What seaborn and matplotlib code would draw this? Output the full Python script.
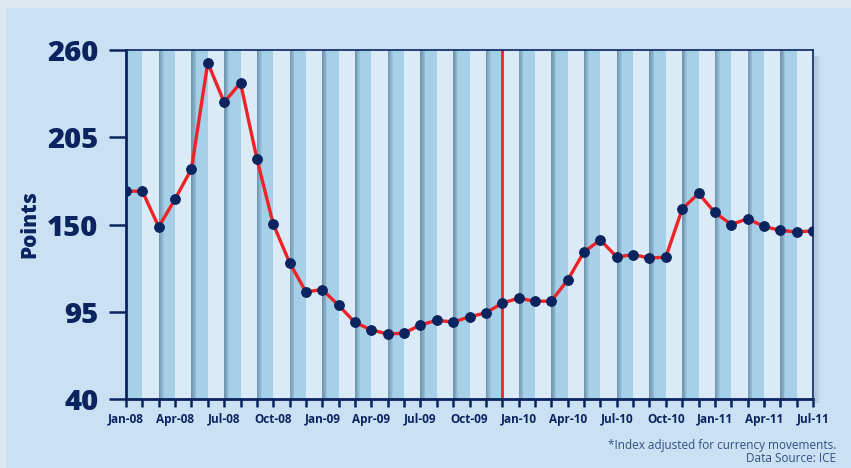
import seaborn as sns
import matplotlib.pyplot as plt
import pandas as pd
from matplotlib.patches import Rectangle

# month labels, Jan-08 .. Jul-11
months = ['Jan-08', 'Feb-08', 'Mar-08', 'Apr-08', 'May-08', 'Jun-08', 'Jul-08',
          'Aug-08', 'Sep-08', 'Oct-08', 'Nov-08', 'Dec-08',
          'Jan-09', 'Feb-09', 'Mar-09', 'Apr-09', 'May-09', 'Jun-09', 'Jul-09',
          'Aug-09', 'Sep-09', 'Oct-09', 'Nov-09', 'Dec-09',
          'Jan-10', 'Feb-10', 'Mar-10', 'Apr-10', 'May-10', 'Jun-10', 'Jul-10',
          'Aug-10', 'Sep-10', 'Oct-10', 'Nov-10', 'Dec-10',
          'Jan-11', 'Feb-11', 'Mar-11', 'Apr-11', 'May-11', 'Jun-11', 'Jul-11']
points = [171, 171, 148.5, 166, 185, 252, 227, 239.3, 191.5, 150.3, 126, 107.5,
          109, 99, 88.3, 83.5, 81, 81.5, 86.7, 89.6, 88.5, 91.8, 94.3, 100.4,
          103.6, 101.6, 101.7, 115, 132.7, 140.3, 129.5, 131, 128.9, 129.4,
          159.7, 169.6, 157.6, 150, 153.6, 148.8, 146.3, 145.3, 146]
marker_month = 'Dec-09'
yticks = [40, 95, 150, 205, 260]
footnote = ['*Index adjusted for currency movements.', 'Data Source: ICE']

navy = '#0b2460'
red = '#ee2327'

df = pd.DataFrame({'month': range(len(months)), 'points': points})

fig = plt.figure(figsize=(8.51, 4.68), dpi=100)
fig.patch.set_facecolor('#c9e1f3')
# lighter frame strips at top and left
fig.patches.append(Rectangle((0, 1 - 7 / 468), 1, 7 / 468, transform=fig.transFigure,
                             color='#dde7ee', zorder=0))
fig.patches.append(Rectangle((0, 0), 5 / 851, 1, transform=fig.transFigure,
                             color='#dde7ee', zorder=0))

ax = fig.add_axes([126 / 851, 69 / 468, 687 / 851, 349 / 468])
ax.set_facecolor('#daeaf6')

# soft shadow right of the plot area
for i in range(5):
    fig.patches.append(Rectangle((813 / 851, 66 / 468), (6 - i) / 851, 346 / 468,
                                 transform=fig.transFigure, color='#5a7a90',
                                 alpha=0.04, zorder=0))

# alternating month bands, darker ones with shaded left edge
n = len(months) - 1
for s in range(0, n, 2):
    ax.axvspan(s, s + 1, color='#a6cfe8', lw=0, zorder=0)
    if s > 0:
        for i in range(6):
            ax.axvspan(s, s + 0.3 * (1 - i / 6), color='#1c3a55', alpha=0.075,
                       lw=0, zorder=0.5)

ax.axvline(months.index(marker_month), color=red, lw=2, zorder=2)

sns.lineplot(data=df, x='month', y='points', ax=ax, color=red, lw=2.4,
             marker='o', markersize=7, markerfacecolor=navy,
             markeredgecolor=navy, zorder=3)

ax.set_xlim(0, n)
ax.set_ylim(40, 260)
ax.set_xticks(range(len(months)))
ax.set_xticklabels([m if i % 3 == 0 else '' for i, m in enumerate(months)])
ax.set_yticks(yticks)
ax.set_yticklabels([str(v) for v in yticks])

ax.tick_params(axis='x', length=6, width=1.8, color=navy, pad=4,
               labelsize=8.5, labelcolor=navy)
ax.tick_params(axis='y', length=12, width=1.8, color=navy, pad=8,
               labelsize=21, labelcolor=navy)
for lab in ax.get_xticklabels():
    lab.set_fontweight('bold')
    lab.set_family('Open Sans')
for lab in ax.get_yticklabels():
    lab.set_fontweight('heavy')
    lab.set_family('Open Sans')

for side in ['left', 'bottom']:
    ax.spines[side].set_color(navy)
    ax.spines[side].set_linewidth(2)
for side in ['top', 'right']:
    ax.spines[side].set_color(navy)
    ax.spines[side].set_linewidth(1.2)

ax.set_xlabel('')
ax.set_ylabel('Points', fontsize=15, fontweight='heavy', color=navy,
              family='Open Sans', labelpad=2)
ax.yaxis.set_label_coords(-0.125, 0.5)

fig.text(836 / 851, 1 - 445 / 468, footnote[0], ha='right', va='center',
         fontsize=8.5, color='#34507f', family='Open Sans')
fig.text(836 / 851, 1 - 459 / 468, footnote[1], ha='right', va='center',
         fontsize=8.5, color='#34507f', family='Open Sans')

fig.savefig('out.png', dpi=100, facecolor=fig.get_facecolor())
